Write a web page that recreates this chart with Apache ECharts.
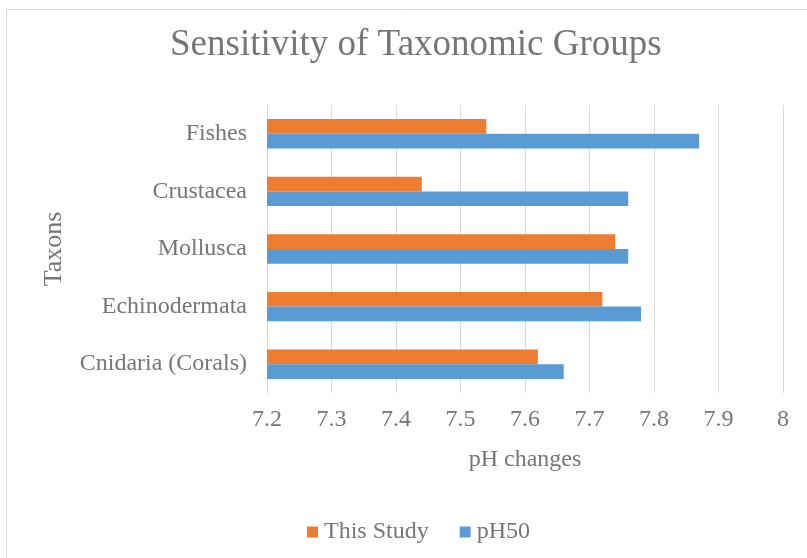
<!DOCTYPE html>
<html>
<head>
<meta charset="utf-8">
<script src="https://cdn.jsdelivr.net/npm/echarts@6/dist/echarts.min.js"></script>
<style>
  html, body { margin: 0; padding: 0; background: #ffffff; }
  #chart { width: 807px; height: 558px; }
</style>
</head>
<body>
<div id="chart"></div>
<script>
// Taxonomic groups, listed bottom to top on the category axis
const taxa = ['Cnidaria (Corals)', 'Echinodermata', 'Mollusca', 'Crustacea', 'Fishes'];
// pH thresholds per group
const thisStudy = [7.62, 7.72, 7.74, 7.44, 7.54];
const pH50 = [7.66, 7.78, 7.76, 7.76, 7.87];

const textColor = '#767676';
const fontFamily = '"Liberation Serif", "Times New Roman", serif';

const chart = echarts.init(document.getElementById('chart'), null, { renderer: 'canvas' });

chart.setOption({
  backgroundColor: '#ffffff',
  animation: false,
  title: {
    text: 'Sensitivity of Taxonomic Groups',
    left: 165,
    top: 22,
    textStyle: { fontFamily, fontSize: 37, fontWeight: 'normal', color: textColor }
  },
  graphic: [{
    type: 'rect',
    shape: { x: 6.5, y: 9.5, width: 900, height: 700 },
    style: { fill: 'none', stroke: '#d9d9d9', lineWidth: 1 },
    silent: true,
    z: -1
  }],
  legend: {
    data: ['This Study', 'pH50'],
    left: 302,
    top: 515,
    icon: 'rect',
    itemWidth: 11,
    itemHeight: 11,
    itemGap: 31,
    textStyle: { fontFamily, fontSize: 24, color: textColor, padding: [0, 0, 0, 1] }
  },
  grid: { left: 267, right: 24, top: 105, bottom: 165, containLabel: false },
  xAxis: {
    type: 'value',
    min: 7.2,
    max: 8,
    interval: 0.1,
    name: 'pH changes',
    nameLocation: 'middle',
    nameGap: 55,
    nameTextStyle: { fontFamily, fontSize: 24, color: textColor },
    axisLine: { show: false },
    axisTick: { show: false },
    splitLine: { show: true, lineStyle: { color: '#d9d9d9', width: 1 } },
    axisLabel: {
      fontFamily, fontSize: 24, color: textColor, margin: 15,
      formatter: v => String(Math.round(v * 10) / 10)
    }
  },
  yAxis: {
    type: 'category',
    data: taxa,
    name: 'Taxons',
    nameLocation: 'middle',
    nameGap: 200,
    nameTextStyle: { fontFamily, fontSize: 26, color: textColor },
    axisLine: { show: true, lineStyle: { color: '#d9d9d9', width: 1 } },
    axisTick: { show: false },
    axisLabel: { fontFamily, fontSize: 24, color: textColor, margin: 20 }
  },
  series: [
    {
      name: 'This Study',
      type: 'bar',
      data: thisStudy,
      itemStyle: { color: '#ED7D31' },
      barGap: '0%',
      barCategoryGap: '49%'
    },
    {
      name: 'pH50',
      type: 'bar',
      data: pH50,
      itemStyle: { color: '#5B9BD5' },
      barGap: '0%',
      barCategoryGap: '49%'
    }
  ]
});
</script>
</body>
</html>
